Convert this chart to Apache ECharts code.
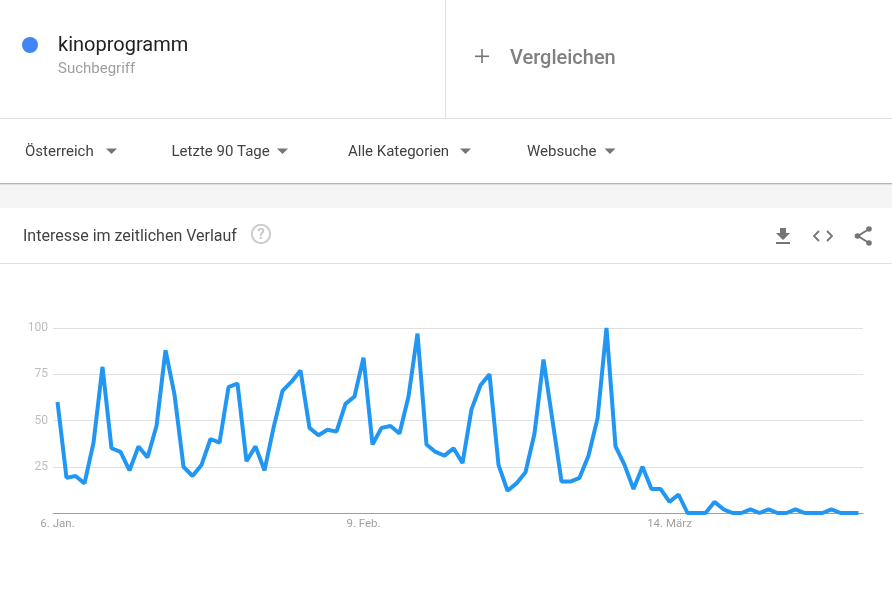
<!DOCTYPE html>
<html>
<head>
<meta charset="utf-8">
<style>html,body{margin:0;padding:0;background:#fff}#c{width:892px;height:599px}</style>
<script src="https://cdn.jsdelivr.net/npm/echarts@6/dist/echarts.min.js"></script>
</head>
<body>
<div id="c"></div>
<script>
const dates = ["6. Jan.","7. Jan.","8. Jan.","9. Jan.","10. Jan.","11. Jan.","12. Jan.","13. Jan.","14. Jan.","15. Jan.","16. Jan.","17. Jan.","18. Jan.","19. Jan.","20. Jan.","21. Jan.","22. Jan.","23. Jan.","24. Jan.","25. Jan.","26. Jan.","27. Jan.","28. Jan.","29. Jan.","30. Jan.","31. Jan.","1. Feb.","2. Feb.","3. Feb.","4. Feb.","5. Feb.","6. Feb.","7. Feb.","8. Feb.","9. Feb.","10. Feb.","11. Feb.","12. Feb.","13. Feb.","14. Feb.","15. Feb.","16. Feb.","17. Feb.","18. Feb.","19. Feb.","20. Feb.","21. Feb.","22. Feb.","23. Feb.","24. Feb.","25. Feb.","26. Feb.","27. Feb.","28. Feb.","29. Feb.","1. März","2. März","3. März","4. März","5. März","6. März","7. März","8. März","9. März","10. März","11. März","12. März","13. März","14. März","15. März","16. März","17. März","18. März","19. März","20. März","21. März","22. März","23. März","24. März","25. März","26. März","27. März","28. März","29. März","30. März","31. März","1. Apr.","2. Apr.","3. Apr.","4. Apr."];
const interest = [60,19,20,16,38,79,35,33,23,36,30,47,88,64,25,20,26,40,38,68,70,28,36,23,46,66,71,77,46,42,45,44,59,63,84,37,46,47,43,63,97,37,33,31,35,27,56,69,75,26,12,16,22,43,83,50,17,17,19,31,51,100,36,26,13,25,13,13,6,10,0,0,0,6,2,0,0,2,0,2,0,0,2,0,0,0,2,0,0,0];
const xLabelDates = ["6. Jan.","9. Feb.","14. März"];
const yTicks = [25,50,75,100];

const FONT = 'Roboto';
const txt = (x,y,text,size,fill,weight) => ({type:'text',silent:true,x,y,style:{text,font:`${weight||400} ${size}px ${FONT}`,fill,verticalAlign:'middle'}});
const rect = (x,y,w,h,fill) => ({type:'rect',silent:true,shape:{x,y,width:w,height:h},style:{fill}});
const tri = (x,y) => ({type:'polygon',silent:true,shape:{points:[[x,y],[x+11,y],[x+5.5,y+5.5]]},style:{fill:'#757575'}});

const chart = echarts.init(document.getElementById('c'));
chart.setOption({
  animation:false,
  backgroundColor:'#fff',
  grid:{left:53,right:29,top:328,bottom:86,containLabel:false},
  xAxis:{
    type:'category',data:dates,boundaryGap:true,
    axisLine:{show:true,lineStyle:{color:'#9e9e9e',width:1}},
    axisTick:{show:false},splitLine:{show:false},
    axisLabel:{
      interval:(i,v)=>xLabelDates.includes(v),
      color:'#a0a0a0',fontFamily:FONT,fontSize:11.5,margin:5,hideOverlap:false
    }
  },
  yAxis:{
    type:'value',min:0,max:100,interval:25,
    axisLine:{show:false},axisTick:{show:false},
    splitLine:{lineStyle:{color:'#e0e0e0',width:1}},
    axisLabel:{
      formatter:v=>yTicks.includes(v)?String(v):'',
      color:'#bdbdbd',fontFamily:FONT,fontSize:12,margin:5,padding:[4,0,0,0]
    }
  },
  series:[{
    type:'line',data:interest,showSymbol:false,symbol:'none',smooth:false,
    lineStyle:{color:'#2196f3',width:4,join:'bevel',cap:'butt'},
    itemStyle:{color:'#2196f3'},silent:true
  }],
  graphic:[
    rect(0,118,892,1,'#e0e0e0'),
    rect(445,0,1,118,'#e0e0e0'),
    rect(0,184,892,24,'#f5f5f5'),
    rect(0,183,892,1,'#b4b4b4'),
    rect(0,184,892,1,'#e0e0e0'),
    rect(0,263,892,1,'#e0e0e0'),
    {type:'circle',silent:true,shape:{cx:30,cy:45,r:8},style:{fill:'#4285f4'}},
    txt(58,45.5,'kinoprogramm',20,'#212121'),
    txt(58,69,'Suchbegriff',15,'#9e9e9e'),
    rect(475,55.5,14,1.6,'#757575'),
    rect(481.2,49,1.6,14,'#757575'),
    txt(510,58.5,'Vergleichen',20,'#808080',500),
    txt(25,152,'Österreich',15,'#424242'),
    tri(106,148.5),
    txt(171.5,152,'Letzte 90 Tage',15,'#424242'),
    tri(277,148.5),
    txt(348,152,'Alle Kategorien',15,'#424242'),
    tri(460,148.5),
    txt(527,152,'Websuche',15,'#424242'),
    tri(604.5,148.5),
    txt(23,236.5,'Interesse im zeitlichen Verlauf',16,'#424242'),
    {type:'circle',silent:true,shape:{cx:261,cy:234,r:9.2},style:{fill:'none',stroke:'#cccccc',lineWidth:2}},
    {type:'text',silent:true,x:261,y:235,style:{text:'?',font:`700 15px ${FONT}`,fill:'#c8c8c8',align:'center',verticalAlign:'middle'}},
    {type:'polygon',silent:true,shape:{points:[[780,228],[786,228],[786,233],[790,233],[783,240],[776,233],[780,233]]},style:{fill:'#757575'}},
    rect(776,242,14,2,'#757575'),
    {type:'polyline',silent:true,shape:{points:[[819,231],[814,236],[819,241]]},style:{fill:'none',stroke:'#757575',lineWidth:1.8}},
    {type:'polyline',silent:true,shape:{points:[[827,231],[832,236],[827,241]]},style:{fill:'none',stroke:'#757575',lineWidth:1.8}},
    {type:'polyline',silent:true,shape:{points:[[869,229],[858,236],[869,243]]},style:{fill:'none',stroke:'#757575',lineWidth:2}},
    {type:'circle',silent:true,shape:{cx:869,cy:229,r:2.8},style:{fill:'#757575'}},
    {type:'circle',silent:true,shape:{cx:857.5,cy:236,r:2.8},style:{fill:'#757575'}},
    {type:'circle',silent:true,shape:{cx:869,cy:243,r:2.8},style:{fill:'#757575'}}
  ]
});
</script>
</body>
</html>
